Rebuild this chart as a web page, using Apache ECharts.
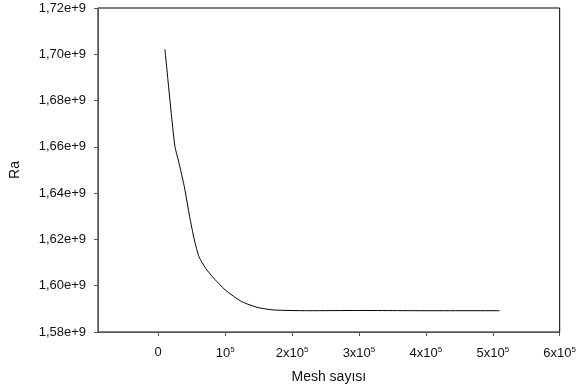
<!DOCTYPE html>
<html>
<head>
<meta charset="utf-8">
<script src="https://cdn.jsdelivr.net/npm/echarts@6/dist/echarts.min.js"></script>
<style>
  html, body { margin: 0; padding: 0; background: #fff; }
  #chart { width: 579px; height: 392px; }
</style>
</head>
<body>
<div id="chart"></div>
<script>
// mesh count vs Ra
const meshCounts = [10000, 15000, 20000, 25000, 30000, 34000, 39000, 47000, 54000, 61000,
  71000, 81000, 100000, 125000, 150000, 174000, 223000, 300000, 400000, 510000];
const raValues = [1.7022e9, 1.6875e9, 1.6730e9, 1.6601e9, 1.6543e9, 1.6493e9, 1.6428e9, 1.6298e9, 1.6198e9, 1.6125e9,
  1.6075e9, 1.6039e9, 1.5982e9, 1.5931e9, 1.5905e9, 1.5895e9, 1.5892e9, 1.5893e9, 1.5892e9, 1.5892e9];
const xTicks = [0, 100000, 200000, 300000, 400000, 500000, 600000];

const chart = echarts.init(document.getElementById('chart'));

const font = 'Liberation Sans, Arial, sans-serif';

chart.setOption({
  animation: false,
  backgroundColor: '#fff',
  grid: { left: 94, right: 16, top: 8, bottom: 60, show: true, borderColor: '#000', borderWidth: 1 },
  xAxis: {
    type: 'value',
    min: -90000,
    max: 600000,
    name: 'Mesh sayısı',
    nameLocation: 'middle',
    nameGap: 38,
    nameTextStyle: { fontFamily: font, fontSize: 14, color: '#111' },
    splitLine: { show: false },
    axisLine: { onZero: false, lineStyle: { color: '#555' } },
    axisTick: { customValues: xTicks, length: 4, lineStyle: { color: '#555' } },
    axisLabel: {
      customValues: xTicks,
      margin: 14,
      color: '#111',
      fontFamily: font,
      fontSize: 13,
      formatter: (v) => {
        if (v === 0) return '0';
        const n = Math.round(v / 100000);
        return (n === 1 ? '{b|10}' : '{b|' + n + 'x10}') + '{s|5}';
      },
      rich: {
        b: { fontFamily: font, fontSize: 13, color: '#111' },
        s: { fontFamily: font, fontSize: 8, color: '#111', verticalAlign: 'top', padding: [0, 0, 6, 0] }
      }
    }
  },
  yAxis: {
    type: 'value',
    min: 1.58e9,
    max: 1.72e9,
    interval: 0.02e9,
    name: 'Ra',
    nameLocation: 'middle',
    nameGap: 76,
    nameTextStyle: { fontFamily: font, fontSize: 14, color: '#111' },
    splitLine: { show: false },
    axisLine: { show: true, onZero: false, lineStyle: { color: '#555' } },
    axisTick: { show: true, length: 4, lineStyle: { color: '#555' } },
    axisLabel: {
      margin: 12,
      color: '#111',
      fontFamily: font,
      fontSize: 13,
      formatter: (v) => (v / 1e9).toFixed(2).replace('.', ',') + 'e+9'
    }
  },
  series: [{
    type: 'line',
    data: meshCounts.map((m, i) => [m, raValues[i]]),
    smooth: 0.2,
    showSymbol: false,
    lineStyle: { color: '#000', width: 1 }
  }]
});
</script>
</body>
</html>
